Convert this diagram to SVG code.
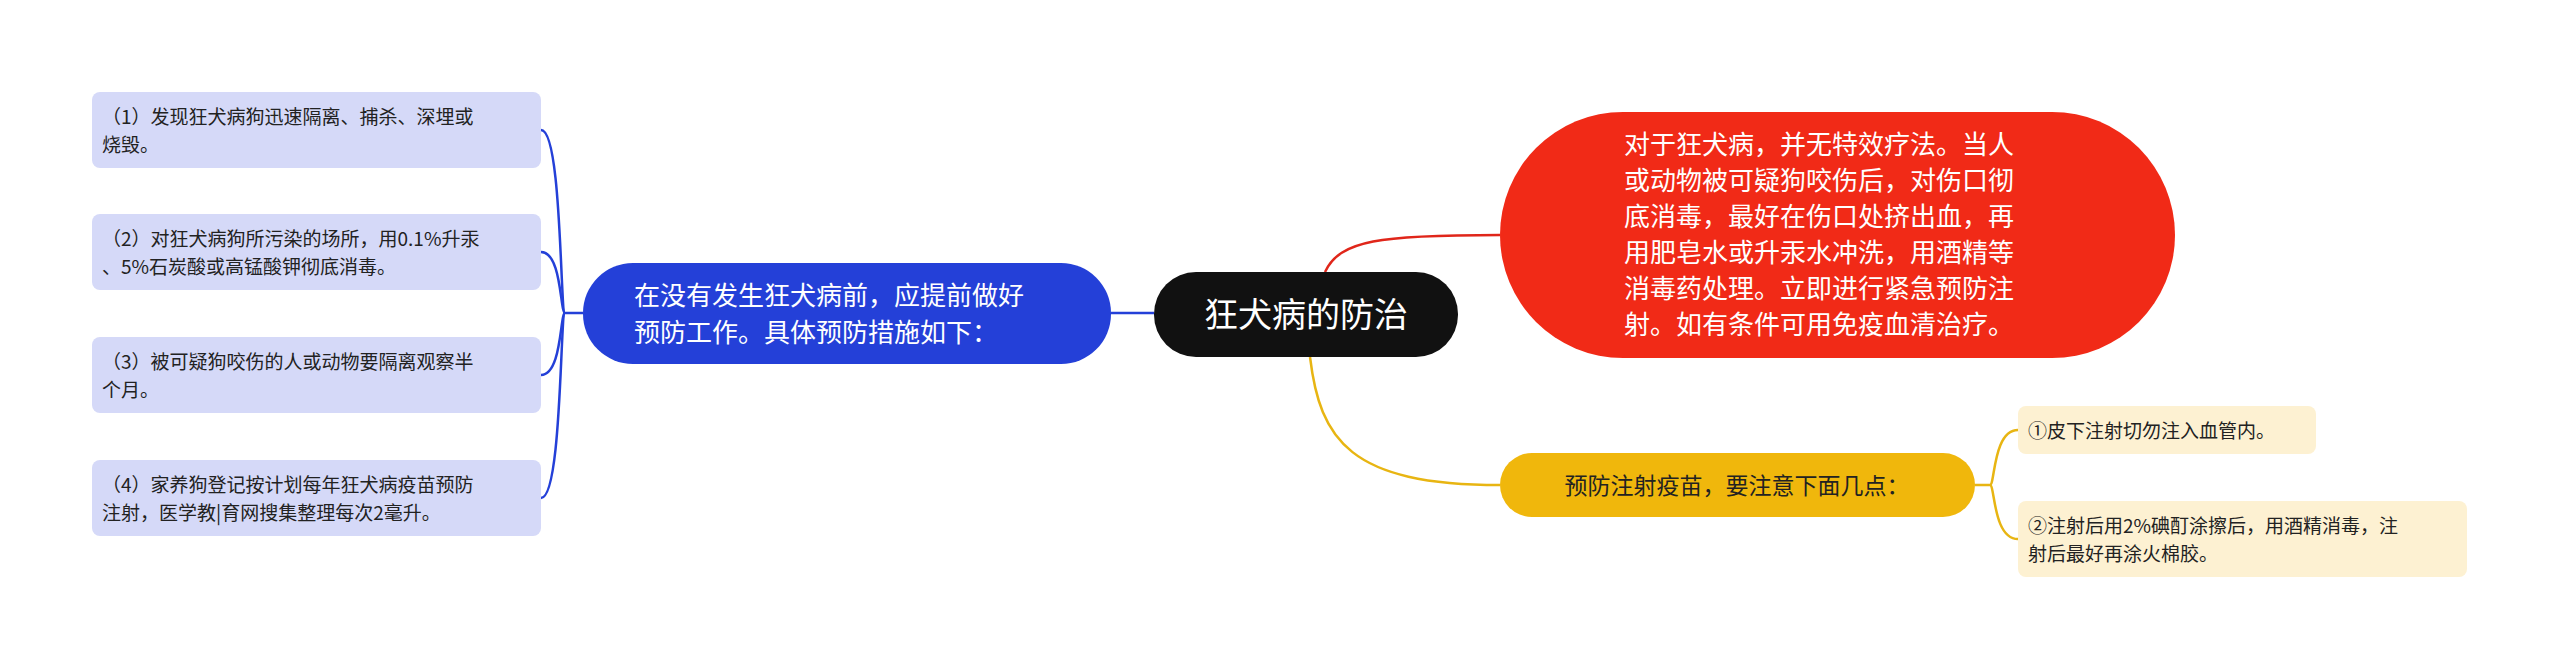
<svg xmlns="http://www.w3.org/2000/svg" width="2560" height="669" viewBox="0 0 2560 669">
<style>
text{font-family:"Noto Sans CJK SC","Noto Sans",sans-serif}
.lb{fill:#d5d9f8}
.ly{fill:#fdf1d2}
.lt{font-size:19px;fill:#222}
.c{fill:none;stroke-width:2.5}
</style>
<rect width="2560" height="669" fill="#fff"/>
<g id="connectors">
<path class="c" stroke="#2440d8" d="M1111,313 L1154,313"/>
<path class="c" stroke="#2440d8" d="M583,313 L565,313 C560,313 562,130 541,130"/>
<path class="c" stroke="#2440d8" d="M565,313 C560,313 562,252 541,252"/>
<path class="c" stroke="#2440d8" d="M565,313 C560,313 562,375 541,375"/>
<path class="c" stroke="#2440d8" d="M565,313 C560,313 562,498 541,498"/>
<path class="c" stroke="#e0261a" d="M1325,272 C1340,240 1380,235 1500,235"/>
<path class="c" stroke="#e8b512" d="M1310,357 C1320,440 1350,485 1500,485"/>
<path class="c" stroke="#e8b512" d="M1975,485 L1990,485 C1995,485 1993,430 2018,430"/>
<path class="c" stroke="#e8b512" d="M1990,485 C1995,485 1993,539 2018,539"/>
</g>
<g id="center"><rect x="1154" y="272" width="304" height="85" rx="42" fill="#111"/>
<text x="1306" y="327" font-size="34" fill="#fff" text-anchor="middle">狂犬病的防治</text></g>
<g id="blue"><rect x="583" y="263" width="528" height="101" rx="50" fill="#2440d8"/>
<text font-size="26" fill="#fff"><tspan x="634" y="305">在没有发生狂犬病前，应提前做好</tspan><tspan x="634" y="342">预防工作。具体预防措施如下：</tspan></text></g>
<g id="b1"><rect class="lb" x="92" y="92" width="449" height="76" rx="8"/>
<text class="lt"><tspan x="102" y="124">（1）发现狂犬病狗迅速隔离、捕杀、深埋或</tspan><tspan x="102" y="152">烧毁。</tspan></text></g>
<g id="b2"><rect class="lb" x="92" y="214" width="449" height="76" rx="8"/>
<text class="lt"><tspan x="102" y="246">（2）对狂犬病狗所污染的场所，用0.1%升汞</tspan><tspan x="102" y="274">、5%石炭酸或高锰酸钾彻底消毒。</tspan></text></g>
<g id="b3"><rect class="lb" x="92" y="337" width="449" height="76" rx="8"/>
<text class="lt"><tspan x="102" y="369">（3）被可疑狗咬伤的人或动物要隔离观察半</tspan><tspan x="102" y="397">个月。</tspan></text></g>
<g id="b4"><rect class="lb" x="92" y="460" width="449" height="76" rx="8"/>
<text class="lt"><tspan x="102" y="492">（4）家养狗登记按计划每年狂犬病疫苗预防</tspan><tspan x="102" y="520">注射，医学教|育网搜集整理每次2毫升。</tspan></text></g>
<g id="red"><rect x="1500" y="112" width="675" height="246" rx="123" fill="#f12a17"/>
<text font-size="26" fill="#fff"><tspan x="1624" y="154">对于狂犬病，并无特效疗法。当人</tspan><tspan x="1624" y="190">或动物被可疑狗咬伤后，对伤口彻</tspan><tspan x="1624" y="226">底消毒，最好在伤口处挤出血，再</tspan><tspan x="1624" y="262">用肥皂水或升汞水冲洗，用酒精等</tspan><tspan x="1624" y="298">消毒药处理。立即进行紧急预防注</tspan><tspan x="1624" y="334">射。如有条件可用免疫血清治疗。</tspan></text></g>
<g id="yellow"><rect x="1500" y="453" width="475" height="64" rx="32" fill="#f0b70c"/>
<text x="1737" y="494" font-size="23" fill="#222" text-anchor="middle">预防注射疫苗，要注意下面几点：</text></g>
<g id="y1"><rect class="ly" x="2018" y="406" width="298" height="48" rx="8"/>
<text class="lt" x="2028" y="438">①皮下注射切勿注入血管内。</text></g>
<g id="y2"><rect class="ly" x="2018" y="501" width="449" height="76" rx="8"/>
<text class="lt"><tspan x="2028" y="533">②注射后用2%碘酊涂擦后，用酒精消毒，注</tspan><tspan x="2028" y="561">射后最好再涂火棉胶。</tspan></text></g>
</svg>
